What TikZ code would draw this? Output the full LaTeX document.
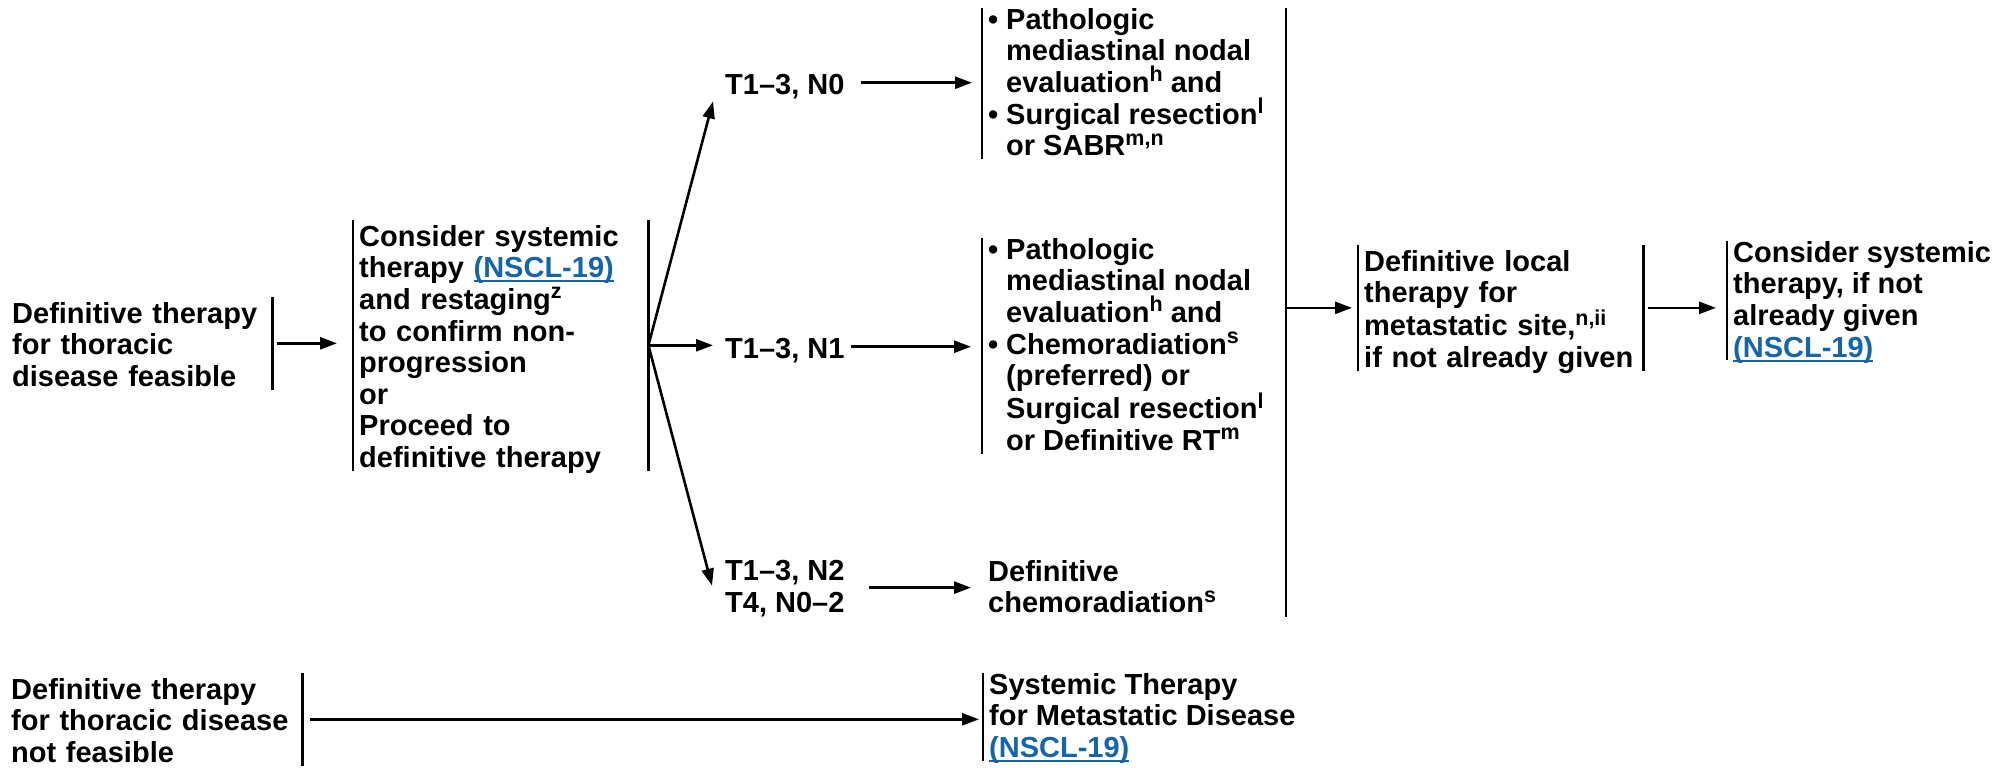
\documentclass[tikz,border=0pt]{standalone}
\usepackage{fontspec}
\setmainfont{Liberation Sans}
\usetikzlibrary{arrows.meta,calc}
\definecolor{nccnblue}{RGB}{21,101,170}
\newcommand\lnk[1]{\textcolor{nccnblue}{\setbox0\hbox{#1}\rlap{\rule[-4.5pt]{\wd0}{2pt}}\box0}}
\newcommand\ssp[1]{\raisebox{10.5pt}{\fontsize{21.5}{21.5}\selectfont\bfseries #1}}
\newcommand\lastl[1]{\raisebox{0pt}[\height][3pt]{#1}}
\newcommand\bulx{\makebox[18pt][l]{\textbullet}}
\newcommand\indx{\hspace*{18pt}}
\begin{document}
\begin{tikzpicture}[x=1pt,y=-1pt,
  blk/.style={align=left, inner xsep=6pt, inner ysep=0pt, anchor=north west,
    font=\fontsize{29}{31.6}\selectfont\bfseries,
    execute at begin node={\rule{0pt}{26pt}}},
  bar/.style={line width=2.2pt},
  arr/.style={line width=2.6pt, -{Triangle[length=17pt,width=12pt]}}]
\useasboundingbox (0,0) rectangle (2013,768);

% left column
\node[blk, text width=254pt] (feas) at (6,297) {Definitive therapy\\for thoracic\\\lastl{disease feasible}};
\draw[bar] (feas.north east) -- (feas.south east);

\node[blk, text width=283pt] (cons) at (353,220) {Consider systemic\\therapy \lnk{(NSCL-19)}\\and restaging\ssp{z}\\to confirm non-\\progression\\or\\Proceed to\\\lastl{definitive therapy}};
\draw[bar] (cons.north west) -- (cons.south west);
\draw[bar] (cons.north east) -- (cons.south east);

% staging labels
\node[blk] (t0) at (719,68) {\lastl{T1–3, N0}};
\node[blk] (t1) at (719,332) {\lastl{T1–3, N1}};
\node[blk] (t2) at (719,560) {T1–3, N2\\\lastl{T4, N0–2}};

% treatments
\node[blk] (nb0) at (982,8) {\bulx Pathologic\\\indx mediastinal nodal\\\indx evaluation\ssp{h} and\\\bulx Surgical resection\ssp{l}\\\lastl{\indx or SABR\ssp{m,n}}};
\draw[bar] (nb0.north west) -- (nb0.south west);

\node[blk] (nb1) at (982,238) {\bulx Pathologic\\\indx mediastinal nodal\\\indx evaluation\ssp{h} and\\\bulx Chemoradiation\ssp{s}\\\indx (preferred) or\\\indx Surgical resection\ssp{l}\\\lastl{\indx or Definitive RT\ssp{m}}};
\draw[bar] (nb1.north west) -- (nb1.south west);

\node[blk] (nb2) at (982,560) {Definitive\\\lastl{chemoradiation\ssp{s}}};

% big collecting bar
\coordinate (bbt) at (1286,8);
\coordinate (bbb) at (1286,617);
\draw[bar] (bbt) -- (bbb);

\node[blk, text width=273pt] (loc) at (1358,245) {Definitive local\\therapy for\\metastatic site,\ssp{n,ii}\\\lastl{if not already given}};
\draw[bar] (loc.north west) -- (loc.south west);
\draw[bar] (loc.north east) -- (loc.south east);

\node[blk] (cs) at (1727,241) {Consider systemic\\therapy, if not\\already given\\\lastl{\lnk{(NSCL-19)}}};
\draw[bar] (cs.north west) -- (cs.south west);

% bottom row
\node[blk, text width=285pt] (nf) at (5,673) {Definitive therapy\\for thoracic disease\\\lastl{not feasible}};
\draw[bar] (nf.north east) -- (nf.south east);

\node[blk] (sys) at (983,673) {Systemic Therapy\\for Metastatic Disease\\\lastl{\lnk{(NSCL-19)}}};
\draw[bar] (sys.north west) -- (sys.south west);

% connectors
\draw[arr, shorten <=5pt, shorten >=16pt] (feas.east) -- (feas.east -| cons.west);
\coordinate (split) at (cons.east);
\draw[arr, shorten >=6pt] (split) -- (split -| t1.west);
\draw[arr] (split) -- ($(t0.south west)+(-6,4)$);
\draw[arr] (split) -- ($(t2.west)+(-7,-2)$);
\draw[arr, shorten <=10pt, shorten >=10pt] (t0.east) -- (t0.east -| nb0.west);
\draw[arr, shorten >=11pt] (t1.east) -- (t1.east -| nb1.west);
\draw[arr, shorten <=18pt, shorten >=11pt] (t2.east) -- (t2.east -| nb2.west);
\draw[arr, shorten >=6pt] (loc.west -| bbt) -- (loc.west);
\draw[arr, shorten <=5pt, shorten >=11pt] (loc.east) -- (loc.east -| cs.west);
\draw[arr, shorten <=8pt, shorten >=4pt] (nf.east) -- (nf.east -| sys.west);
\end{tikzpicture}
\end{document}
